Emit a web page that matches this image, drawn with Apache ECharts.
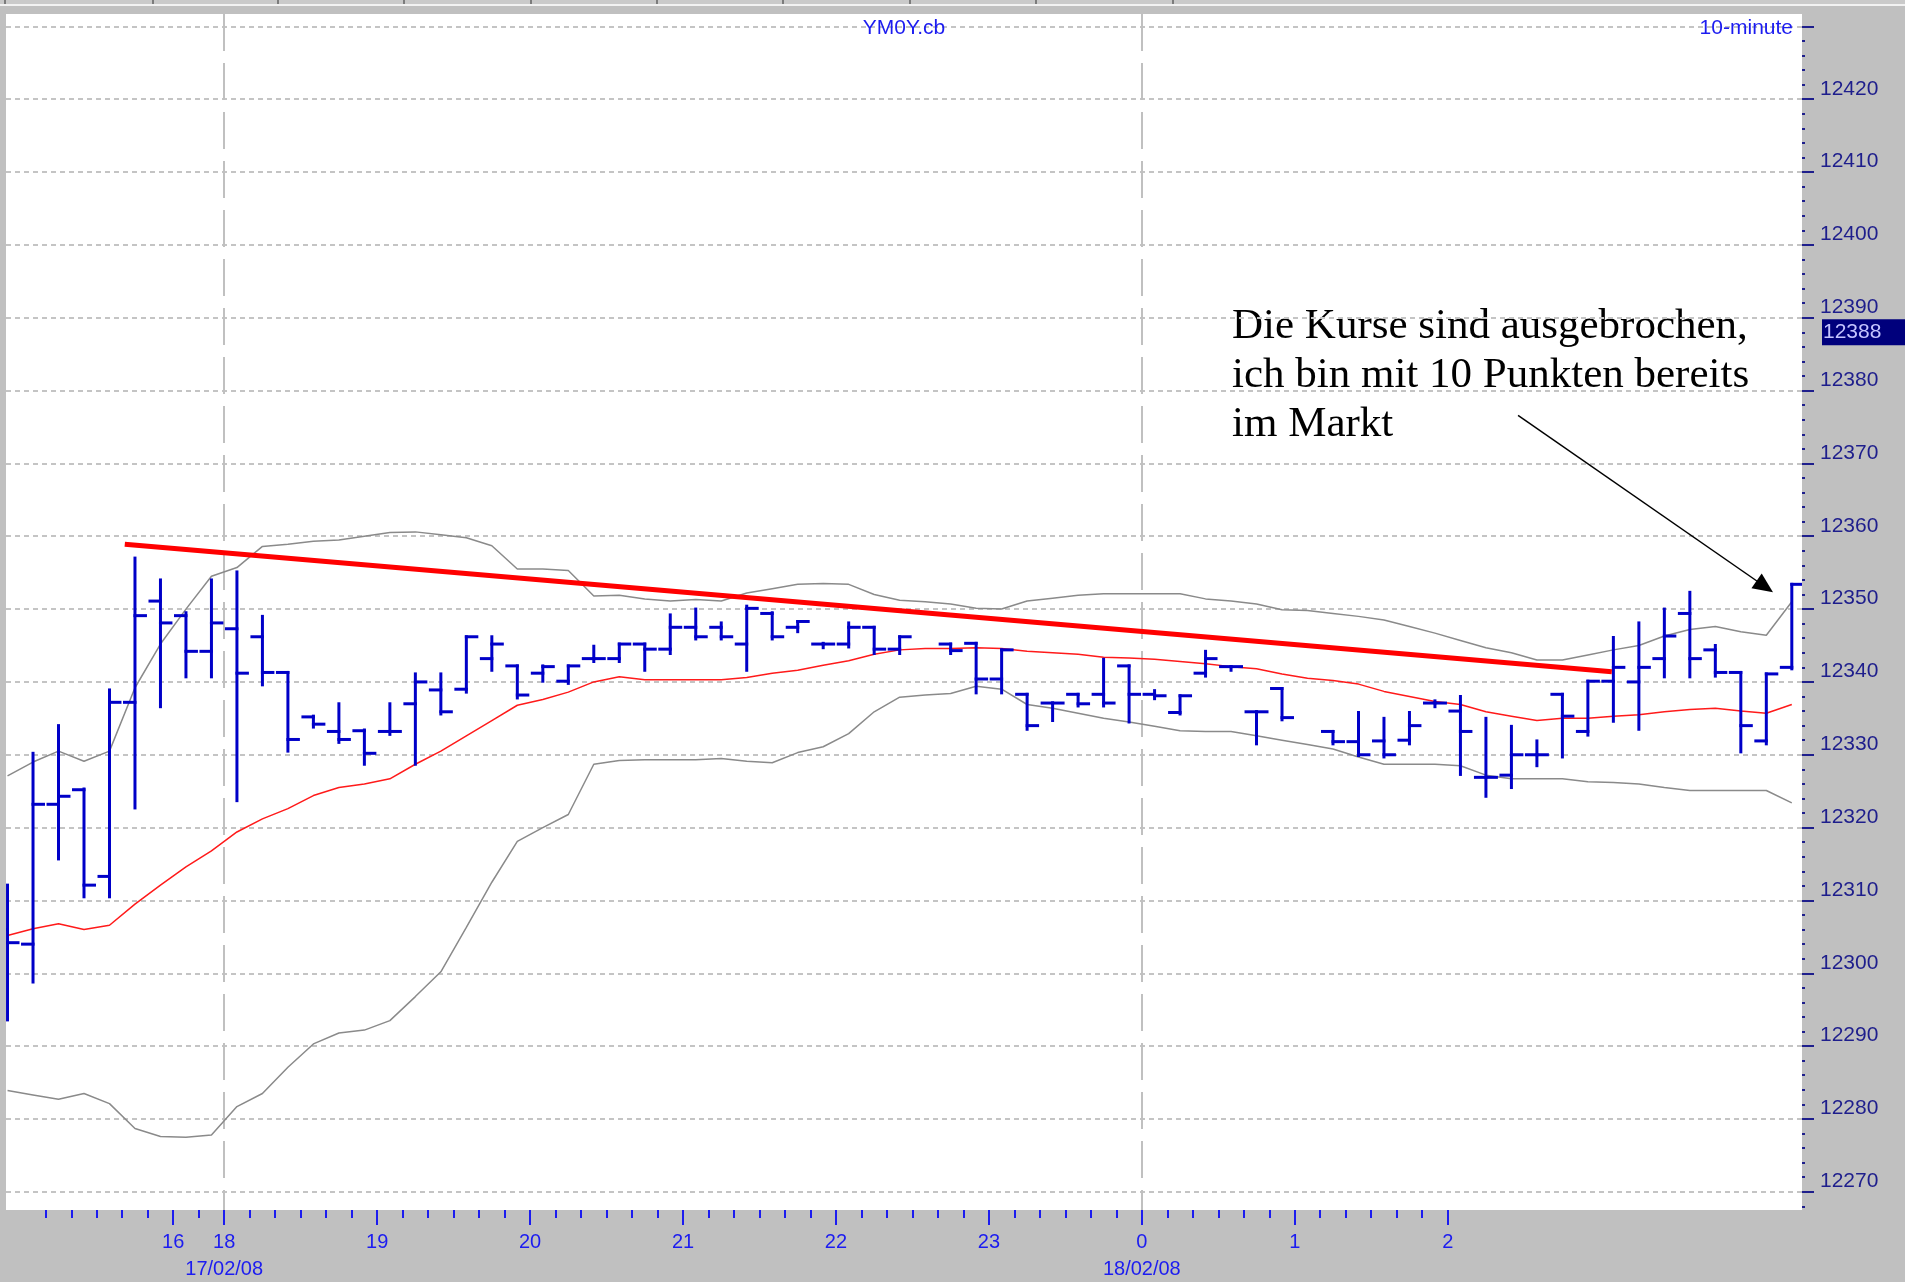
<!DOCTYPE html>
<html>
<head>
<meta charset="utf-8">
<title>YM0Y.cb 10-minute</title>
<script src="https://cdn.jsdelivr.net/npm/echarts@6/dist/echarts.min.js"></script>
<style>
    html, body { margin: 0; padding: 0; background: #c0c0c0; }
    #chart { width: 1905px; height: 1282px; }
</style>
</head>
<body>
<div id="chart"></div>
<script>
'use strict';

//10-Minuten-Balken (Index = Balken, null = kein Balken)
const barOpen = [12306, 12304, 12323.2, 12325.2, 12313.3, 12337.2, 12351.1, 12349.1, 12344.2, 12347.3,
    12346.2, 12341.3, 12335.2, 12333.2, 12333.3, 12333.2, 12337.0, 12338.9, 12339.0, 12343.2,
    12342.2, 12341.2, 12340.1, 12343.2, 12343.2, 12345.2, 12344.5, 12347.5, 12347.5, 12345.2,
    12349.4, 12347.5, 12345.2, 12345.2, 12347.5, 12344.5, null, 12345.2, 12345.3, 12340.4,
    12338.3, 12337.1, 12338.3, 12338.3, 12342.2, 12338.3, 12335.8, 12341.2, 12342.1, 12335.9,
    12339.1, null, 12333.2, 12331.8, 12331.9, 12332.0, 12337.1, 12336.0, 12326.9, 12327.2,
    12330.0, 12338.3, 12333.2, 12340.1, 12340.0, 12343.2, 12349.4, 12344.4, 12341.3, 12331.9,
    12342.0]
const barHigh = [12312.1, 12330.2, 12334.0, 12325.3, 12338.9, 12357.0, 12354.0, 12349.5, 12354.0, 12355.1,
    12349.0, 12341.3, 12335.3, 12337.0, 12333.4, 12337.0, 12341.1, 12341.1, 12346.2, 12346.2,
    12342.2, 12342.2, 12342.2, 12344.9, 12345.2, 12345.2, 12349.2, 12350.0, 12348.1, 12350.4,
    12349.5, 12348.3, 12345.3, 12348.1, 12347.5, 12346.2, null, 12345.2, 12345.3, 12344.4,
    12338.3, 12337.1, 12338.3, 12343.1, 12342.2, 12338.8, 12338.1, 12344.2, 12342.1, 12335.9,
    12339.1, null, 12333.2, 12335.8, 12335.0, 12335.8, 12337.4, 12338.0, 12335.0, 12333.9,
    12331.9, 12338.3, 12340.1, 12346.1, 12348.1, 12350.0, 12352.3, 12345.0, 12341.3, 12341.1,
    12353.4]
const barLow = [12293.6, 12298.8, 12315.7, 12310.5, 12310.5, 12322.7, 12336.6, 12340.7, 12340.7, 12323.7,
    12339.6, 12330.5, 12333.8, 12331.7, 12328.7, 12332.8, 12328.7, 12335.6, 12338.6, 12341.6,
    12337.8, 12340.1, 12339.8, 12342.8, 12342.8, 12341.6, 12343.9, 12345.9, 12345.9, 12341.6,
    12345.9, 12346.9, 12344.7, 12344.8, 12343.9, 12343.9, null, 12343.9, 12338.5, 12338.5,
    12333.5, 12334.7, 12336.7, 12336.7, 12334.5, 12337.7, 12335.6, 12340.8, 12341.6, 12331.5,
    12334.8, null, 12331.5, 12329.9, 12329.7, 12331.5, 12336.6, 12327.3, 12324.3, 12325.5,
    12328.5, 12329.7, 12332.7, 12334.6, 12333.5, 12340.7, 12340.7, 12340.8, 12330.4, 12331.5,
    12341.8]
const barClose = [12304.2, 12323.2, 12324.3, 12312.1, 12337.2, 12349.1, 12348.1, 12344.2, 12348.1, 12341.2,
    12341.3, 12332.1, 12334.2, 12332.1, 12330.2, 12333.2, 12340.0, 12335.9, 12346.2, 12345.2,
    12338.2, 12342.1, 12342.2, 12343.2, 12345.2, 12344.5, 12347.5, 12346.2, 12346.2, 12350.1,
    12346.2, 12348.3, 12345.2, 12347.5, 12344.5, 12346.2, null, 12344.3, 12340.4, 12344.4,
    12334.0, 12337.1, 12337.0, 12337.1, 12338.3, 12338.1, 12338.1, 12343.2, 12342.1, 12335.9,
    12335.1, null, 12331.8, 12330.0, 12330.0, 12334.0, 12337.1, 12333.2, 12326.9, 12330.0,
    12330.0, 12335.3, 12340.1, 12342.0, 12342.0, 12346.3, 12343.2, 12341.3, 12334.0, 12341.1,
    12353.4]

//Bollinger-Baender
const bandUpper = [12327.1, 12329.0, 12330.5, 12329.1, 12330.5, 12339.2, 12345.2, 12350.0, 12354.5, 12355.7,
    12358.6, 12358.9, 12359.3, 12359.5, 12360.0, 12360.5, 12360.6, 12360.2, 12359.8, 12358.7,
    12355.5, 12355.5, 12355.3, 12351.8, 12351.9, 12351.4, 12351.1, 12351.3, 12351.1, 12352.2,
    12352.8, 12353.4, 12353.5, 12353.4, 12352.0, 12351.2, 12351.0, 12350.7, 12350.1, 12350.0,
    12351.1, 12351.5, 12351.9, 12352.1, 12352.1, 12352.1, 12352.1, 12351.4, 12351.1, 12350.7,
    12349.9, 12349.8, 12349.4, 12349.0, 12348.5, 12347.6, 12346.7, 12345.7, 12344.7, 12344.0,
    12343.0, 12343.0, 12343.7, 12344.4, 12345.0, 12346.3, 12347.2, 12347.6, 12346.9, 12346.4,
    12351.0]
const bandMiddle = [12305.2, 12306.1, 12306.8, 12306.0, 12306.6, 12309.5, 12312.1, 12314.6, 12316.8, 12319.4,
    12321.2, 12322.6, 12324.4, 12325.5, 12326.0, 12326.7, 12328.7, 12330.5, 12332.6, 12334.7,
    12336.8, 12337.6, 12338.6, 12340.0, 12340.7, 12340.3, 12340.3, 12340.3, 12340.3, 12340.6,
    12341.2, 12341.6, 12342.3, 12342.9, 12343.8, 12344.4, 12344.6, 12344.6, 12344.7, 12344.6,
    12344.2, 12344.0, 12343.8, 12343.4, 12343.3, 12343.1, 12342.8, 12342.5, 12342.1, 12341.8,
    12341.1, 12340.5, 12340.2, 12339.7, 12338.7, 12338.0, 12337.3, 12336.9, 12335.9, 12335.3,
    12334.7, 12335.0, 12335.0, 12335.3, 12335.5, 12335.9, 12336.2, 12336.4, 12336.0, 12335.7,
    12336.9]
const bandLower = [12283.9, 12283.3, 12282.7, 12283.5, 12282.1, 12278.7, 12277.6, 12277.5, 12277.8, 12281.7,
    12283.5, 12287.1, 12290.3, 12291.8, 12292.2, 12293.5, 12296.8, 12300.2, 12306.3, 12312.5,
    12318.1, 12320.0, 12321.8, 12328.7, 12329.2, 12329.3, 12329.3, 12329.3, 12329.5, 12329.1,
    12328.9, 12330.3, 12331.1, 12332.9, 12335.9, 12337.9, 12338.2, 12338.4, 12339.4, 12339.0,
    12336.9, 12336.4, 12335.7, 12335.0, 12334.5, 12333.9, 12333.3, 12333.2, 12333.2, 12332.6,
    12332.0, 12331.4, 12330.8, 12329.7, 12328.7, 12328.7, 12328.7, 12328.5, 12327.2, 12326.7,
    12326.7, 12326.7, 12326.3, 12326.2, 12326.0, 12325.5, 12325.1, 12325.1, 12325.1, 12325.1,
    12323.4]

//Zeitachse: Stundenmarken liegen zwischen zwei Balken
const hourTicks = [6.5, 8.5, 14.5, 20.5, 26.5, 32.5, 38.5, 44.5, 50.5, 56.5]
const hourLabels = ['16', '18', '19', '20', '21', '22', '23', '0', '1', '2']
const dateTicks = [8.5, 44.5]
const dateLabels = ['17/02/08', '18/02/08']
const barTicks = []
for (let t = 1.5; t <= 56.5; t += 1) {
    barTicks.push(t)
}

//Preisachse
const priceTicks = [12270, 12280, 12290, 12300, 12310, 12320, 12330, 12340, 12350, 12360, 12370, 12380, 12390, 12400, 12410, 12420, 12430]
const priceLabels = [12270, 12280, 12290, 12300, 12310, 12320, 12330, 12340, 12350, 12360, 12370, 12380, 12390, 12400, 12410, 12420]
const priceMinor = []
for (let p = 12268; p <= 12430; p += 2) {
    priceMinor.push(p)
}
const lastPrice = [12388]

//Trendlinie und Pfeil
const trendLine = [[4.6, 12358.9], [62.94, 12341.4]]
const arrowFrom = [59.26, 12376.6]
const arrowTo = [68.94, 12353.1]

const note = 'Die Kurse sind ausgebrochen,\nich bin mit 10 Punkten bereits\nim Markt'

const X_MIN = -0.06
const X_MAX = 70.4
const Y_MIN = 12267.5
const Y_MAX = 12431.7
const BLUE = '#1c1cf0'
const NAVY = '#1e1e8c'

const barData = []
barOpen.forEach((o, i) => {
    if (o !== null) {
        barData.push([i, o, barHigh[i], barLow[i], barClose[i]])
    }
})
const toLine = arr => arr.map((v, i) => [i, v])

function findLabel(ticks, labels, v) {
    const idx = ticks.findIndex(t => Math.abs(t - v) < 1e-6)
    return idx < 0 ? '' : labels[idx]
}

//OHLC-Balken zeichnen
function renderBar(params, api) {
    const x = api.value(0)
    const hi = api.coord([x, api.value(2)])
    const lo = api.coord([x, api.value(3)])
    const op = api.coord([x, api.value(1)])
    const cl = api.coord([x, api.value(4)])
    const half = api.size([1, 0])[0] * 0.47
    const style = { stroke: '#0000c8', lineWidth: 3 }
    return {
        type: 'group',
        children: [
            { type: 'line', shape: { x1: hi[0], y1: hi[1] - 1.5, x2: lo[0], y2: lo[1] + 1.5 }, style: style },
            { type: 'line', shape: { x1: op[0] - half, y1: op[1], x2: op[0] + 1.5, y2: op[1] }, style: style },
            { type: 'line', shape: { x1: cl[0] - 1.5, y1: cl[1], x2: cl[0] + half, y2: cl[1] }, style: style }
        ]
    }
}

const xBase = {
    type: 'value',
    min: X_MIN,
    max: X_MAX,
    position: 'bottom',
    axisLine: { show: false, onZero: false },
    splitLine: { show: false },
    axisLabel: { show: false },
    axisTick: { show: false }
}
const yBase = {
    type: 'value',
    min: Y_MIN,
    max: Y_MAX,
    position: 'right',
    scale: true,
    axisLine: { show: false, onZero: false },
    splitLine: { show: false },
    axisLabel: { show: false },
    axisTick: { show: false }
}

const option = {
    animation: false,
    backgroundColor: '#c0c0c0',
    textStyle: { fontFamily: 'Liberation Sans, Arial, sans-serif' },
    title: [{
        text: 'YM0Y.cb',
        left: 904,
        top: 18,
        textAlign: 'center',
        padding: 0,
        textStyle: { color: BLUE, fontSize: 21, fontWeight: 'normal', lineHeight: 21, fontFamily: 'Liberation Sans, Arial, sans-serif' }
    }, {
        text: '10-minute',
        right: 112,
        top: 18,
        padding: 0,
        textStyle: { color: BLUE, fontSize: 21, fontWeight: 'normal', lineHeight: 21, fontFamily: 'Liberation Sans, Arial, sans-serif' }
    }],
    grid: {
        left: 6,
        top: 14,
        right: 103,
        bottom: 72,
        show: true,
        backgroundColor: '#ffffff',
        borderWidth: 0,
        containLabel: false,
        outerBoundsMode: 'none'
    },
    xAxis: [
        Object.assign({}, xBase, {
            axisTick: { show: true, customValues: barTicks, length: 8, lineStyle: { color: BLUE, width: 2 } }
        }),
        Object.assign({}, xBase, {
            axisTick: { show: true, customValues: hourTicks, length: 15, lineStyle: { color: BLUE, width: 2 } },
            axisLabel: {
                show: true,
                customValues: hourTicks,
                margin: 19,
                color: BLUE,
                fontSize: 20,
                lineHeight: 27,
                formatter: function (v) {
                    const h = findLabel(hourTicks, hourLabels, v)
                    const d = findLabel(dateTicks, dateLabels, v)
                    return d ? h + '\n{d|' + d + '}' : h
                },
                rich: { d: { color: BLUE, fontSize: 20, lineHeight: 27 } }
            }
        }),
        Object.assign({}, xBase, {
            axisTick: { show: false, customValues: dateTicks },
            splitLine: { show: true, lineStyle: { color: '#c0c0c0', width: 2, type: [37, 12] } }
        })
    ],
    yAxis: [
        Object.assign({}, yBase, {
            axisTick: { show: true, customValues: priceTicks, length: 12, lineStyle: { color: NAVY, width: 2 } },
            axisLabel: {
                show: true,
                customValues: priceLabels,
                margin: 18,
                color: NAVY,
                fontSize: 21,
                verticalAlign: 'bottom',
                formatter: v => String(v)
            },
            splitLine: { show: true, lineStyle: { color: '#c4c4c4', width: 2, type: [5, 4] } }
        }),
        Object.assign({}, yBase, {
            axisTick: { show: true, customValues: priceMinor, length: 3, lineStyle: { color: NAVY, width: 2 } }
        }),
        Object.assign({}, yBase, {
            axisLabel: {
                show: true,
                customValues: lastPrice,
                margin: 20,
                color: '#c4c4ff',
                fontSize: 21,
                verticalAlign: 'middle',
                backgroundColor: '#00007c',
                padding: [3, 60, 2, 1],
                formatter: v => String(v)
            }
        })
    ],
    graphic: [
        { type: 'rect', shape: { x: 0, y: 0, width: 1905, height: 4 }, style: { fill: '#cacaca' }, silent: true },
        { type: 'rect', shape: { x: 0, y: 4, width: 1905, height: 2 }, style: { fill: '#f2f2f2' }, silent: true },
        { type: 'group', silent: true, children: [4, 152, 277, 403, 530, 656, 782, 909, 1035, 1172].map(x => ({
            type: 'rect', shape: { x: x, y: 0, width: 2, height: 4 }, style: { fill: '#7c7c7c' }
        })) },
        {
            type: 'text',
            left: 1232,
            top: 302,
            silent: true,
            style: {
                text: note,
                fill: '#000000',
                font: '43px "Liberation Serif", "Times New Roman", serif',
                lineHeight: 49
            }
        }
    ],
    series: [{
        name: 'oben',
        type: 'line',
        data: toLine(bandUpper),
        showSymbol: false,
        symbol: 'none',
        lineStyle: { color: '#8a8a8a', width: 1.5 },
        z: 2
    }, {
        name: 'unten',
        type: 'line',
        data: toLine(bandLower),
        showSymbol: false,
        symbol: 'none',
        lineStyle: { color: '#8a8a8a', width: 1.5 },
        z: 2
    }, {
        name: 'Mitte',
        type: 'line',
        data: toLine(bandMiddle),
        showSymbol: false,
        symbol: 'none',
        lineStyle: { color: '#ff1a1a', width: 1.5 },
        z: 3
    }, {
        name: 'YM0Y.cb',
        type: 'custom',
        renderItem: renderBar,
        data: barData,
        clip: true,
        encode: { x: 0, y: [1, 2, 3, 4] },
        z: 4
    }, {
        name: 'Trend',
        type: 'line',
        data: trendLine,
        showSymbol: false,
        symbol: 'none',
        lineStyle: { color: '#ff0000', width: 5 },
        z: 5,
        markLine: {
            silent: true,
            symbol: ['none', 'triangle'],
            symbolSize: [18, 20],
            label: { show: false },
            lineStyle: { color: '#000000', width: 1.5, type: 'solid' },
            data: [[{ coord: arrowFrom }, { coord: arrowTo }]]
        }
    }]
}

const myChart = echarts.init(document.getElementById('chart'))
myChart.setOption(option)
</script>
</body>
</html>
